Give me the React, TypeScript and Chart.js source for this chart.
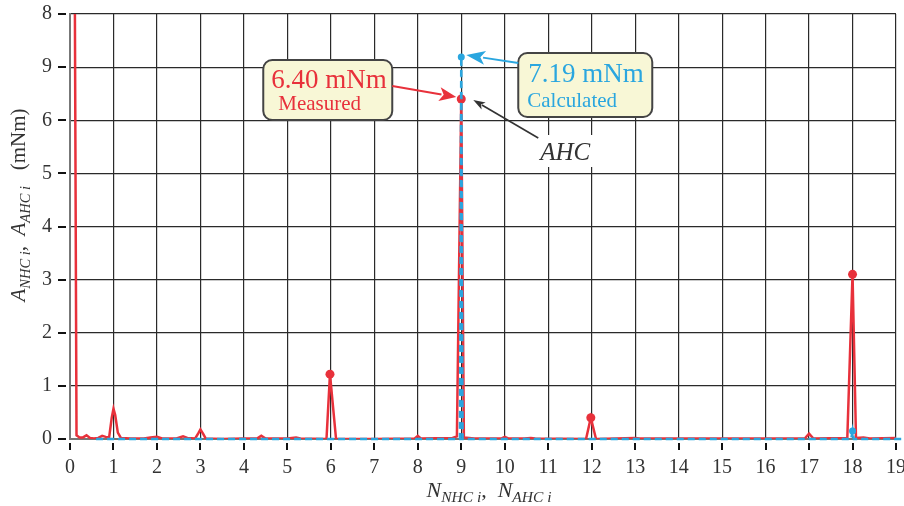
import React, { useEffect, useRef } from "react";
import { Chart, registerables } from "chart.js";

Chart.register(...registerables);

// ---- data ----
const measuredX = [
  0.11, 0.15, 0.22, 0.3, 0.38, 0.46, 0.55, 0.65, 0.74, 0.82, 0.9, 0.96, 1.0, 1.04, 1.1, 1.17, 1.4, 1.7, 1.85, 2.0, 2.12,
  2.45, 2.6, 2.7, 2.88, 2.96, 3.0, 3.06, 3.12, 3.5, 4.0, 4.3, 4.4, 4.5, 5.0, 5.2, 5.3, 5.9, 5.98, 6.12, 7.0, 7.93, 8.0,
  8.07, 8.8, 8.9, 9.0, 9.06, 9.3, 9.93, 10.0, 10.08, 10.45, 10.6, 10.7, 11.87, 11.98, 12.1, 13.0, 13.1, 14.2, 15.0,
  16.9, 17.0, 17.1, 17.88, 18.0, 18.08, 18.25, 18.4, 19.0,
];
const measuredY = [
  8.6, 0.07, 0.03, 0.03, 0.07, 0.02, 0.01, 0.02, 0.06, 0.04, 0.03, 0.4, 0.57, 0.45, 0.12, 0.02, 0.01, 0.01, 0.03, 0.04, 0.01,
  0.01, 0.05, 0.02, 0.01, 0.12, 0.18, 0.1, 0.01, 0.0, 0.01, 0.01, 0.06, 0.01, 0.01, 0.03, 0.01, 0.0, 1.22, 0.0, 0.0, 0.01, 0.06,
  0.01, 0.02, 0.05, 6.4, 0.03, 0.01, 0.01, 0.04, 0.01, 0.01, 0.02, 0.01, 0.0, 0.4, 0.0, 0.02, 0.01, 0.01, 0.01,
  0.01, 0.1, 0.01, 0.02, 3.1, 0.02, 0.03, 0.01, 0.02,
];
const measuredMarks = [5.98, 9, 11.98, 18];

const calculatedX = [0.6, 8.97, 9.0, 9.03, 17.97, 18.0, 18.03, 19.25];
const calculatedY = [0, 0, 7.19, 0, 0, 0.15, 0, 0];
const calculatedMarks = [9, 18];

const xTickValues = [0, 1, 2, 3, 4, 5, 6, 7, 8, 9, 10, 11, 12, 13, 14, 15, 16, 17, 18, 19];
const yTickLabels = ["0", "1", "2", "3", "4", "5", "6", "9", "8"];

const measuredLabel = "6.40 mNm";
const measuredSub = "Measured";
const calculatedLabel = "7.19 mNm";
const calculatedSub = "Calculated";
const ahcLabel = "AHC";

const RED = "#e8313b";
const BLUE = "#2aa6df";
const TXT = "#333";
const SERIF = "'Liberation Serif', 'DejaVu Serif', serif";

type Seg = { t: string; it?: boolean; sub?: boolean };

function drawSegs(ctx: CanvasRenderingContext2D, segs: Seg[], cx: number, base: number, big: number, small: number) {
  const fontOf = (s: Seg) => `${s.it ? "italic " : ""}${s.sub ? small : big}px ${SERIF}`;
  let total = 0;
  for (const s of segs) {
    ctx.font = fontOf(s);
    total += ctx.measureText(s.t).width;
  }
  let x = cx - total / 2;
  ctx.textAlign = "left";
  ctx.textBaseline = "alphabetic";
  for (const s of segs) {
    ctx.font = fontOf(s);
    ctx.fillText(s.t, x, s.sub ? base + 5 : base);
    x += ctx.measureText(s.t).width;
  }
}

function arrow(
  ctx: CanvasRenderingContext2D,
  x1: number, y1: number, x2: number, y2: number,
  color: string, lw: number, hl: number, hw: number
) {
  const a = Math.atan2(y2 - y1, x2 - x1);
  const bx = x2 - hl * Math.cos(a);
  const by = y2 - hl * Math.sin(a);
  ctx.save();
  ctx.strokeStyle = color;
  ctx.fillStyle = color;
  ctx.lineWidth = lw;
  ctx.beginPath();
  ctx.moveTo(x1, y1);
  ctx.lineTo(bx + 2 * Math.cos(a), by + 2 * Math.sin(a));
  ctx.stroke();
  ctx.beginPath();
  ctx.moveTo(x2, y2);
  ctx.lineTo(bx + (hw / 2) * Math.sin(a), by - (hw / 2) * Math.cos(a));
  ctx.lineTo(bx + hl * 0.25 * Math.cos(a), by + hl * 0.25 * Math.sin(a));
  ctx.lineTo(bx - (hw / 2) * Math.sin(a), by + (hw / 2) * Math.cos(a));
  ctx.closePath();
  ctx.fill();
  ctx.restore();
}

function box(ctx: CanvasRenderingContext2D, x: number, y: number, w: number, h: number, r: number) {
  ctx.save();
  ctx.beginPath();
  ctx.moveTo(x + r, y);
  ctx.arcTo(x + w, y, x + w, y + h, r);
  ctx.arcTo(x + w, y + h, x, y + h, r);
  ctx.arcTo(x, y + h, x, y, r);
  ctx.arcTo(x, y, x + w, y, r);
  ctx.closePath();
  ctx.fillStyle = "#f8f7d6";
  ctx.fill();
  ctx.strokeStyle = "#444";
  ctx.lineWidth = 2;
  ctx.stroke();
  ctx.restore();
}

const overlay = {
  id: "overlay",
  beforeDatasetsDraw(chart: any) {
    const { ctx, chartArea, scales } = chart;
    const xs = scales.x;
    const ys = scales.y;
    ctx.save();
    ctx.strokeStyle = "#111";
    ctx.lineWidth = 2;
    for (const v of xTickValues) {
      const px = Math.round(xs.getPixelForValue(v));
      ctx.beginPath();
      ctx.moveTo(px, chartArea.bottom + 4);
      ctx.lineTo(px, chartArea.bottom + 11);
      ctx.stroke();
    }
    for (let v = 0; v < yTickLabels.length; v++) {
      const py = Math.round(ys.getPixelForValue(v));
      ctx.beginPath();
      ctx.moveTo(chartArea.left - 12, py);
      ctx.lineTo(chartArea.left - 4, py);
      ctx.stroke();
    }
    ctx.restore();

    // axis titles
    ctx.save();
    ctx.fillStyle = TXT;
    drawSegs(
      ctx,
      [{ t: "N", it: true }, { t: "NHC i", it: true, sub: true }, { t: ",  " }, { t: "N", it: true }, { t: "AHC i", it: true, sub: true }],
      (chartArea.left + chartArea.right) / 2 + 6,
      497,
      22,
      15.5
    );
    ctx.translate(25, 205);
    ctx.rotate(-Math.PI / 2);
    drawSegs(
      ctx,
      [
        { t: "A", it: true },
        { t: "NHC i", it: true, sub: true },
        { t: ",  " },
        { t: "A", it: true },
        { t: "AHC i", it: true, sub: true },
        { t: "   (mNm)" },
      ],
      0,
      0,
      21,
      14.5
    );
    ctx.restore();
  },
  afterDraw(chart: any) {
    const { ctx, scales } = chart;
    const xs = scales.x;
    const ys = scales.y;
    const px = xs.getPixelForValue(9);
    const pyM = ys.getPixelForValue(6.4);
    const pyC = ys.getPixelForValue(7.19);

    // measured box
    const b1x = px - 198, b1y = pyM - 39;
    box(ctx, b1x, b1y, 129, 60, 9);
    ctx.save();
    ctx.fillStyle = RED;
    ctx.textAlign = "left";
    ctx.textBaseline = "alphabetic";
    ctx.font = `27px ${SERIF}`;
    ctx.fillText(measuredLabel, b1x + 8, b1y + 28);
    ctx.font = `21px ${SERIF}`;
    ctx.fillText(measuredSub, b1x + 15, b1y + 50);
    ctx.restore();

    // calculated box
    const b2x = px + 57, b2y = pyC - 4;
    box(ctx, b2x, b2y, 134, 64, 9);
    ctx.save();
    ctx.fillStyle = BLUE;
    ctx.font = `27px ${SERIF}`;
    ctx.textAlign = "left";
    ctx.textBaseline = "alphabetic";
    ctx.fillText(calculatedLabel, b2x + 10, b2y + 29);
    ctx.font = `21px ${SERIF}`;
    ctx.fillText(calculatedSub, b2x + 9, b2y + 54);
    ctx.restore();

    // AHC label
    ctx.save();
    ctx.fillStyle = "#fff";
    ctx.fillRect(px + 74, pyM + 36, 64, 32);
    ctx.fillStyle = TXT;
    ctx.font = `italic 25px ${SERIF}`;
    ctx.textAlign = "left";
    ctx.textBaseline = "alphabetic";
    ctx.fillText(ahcLabel, px + 79, pyM + 61);
    ctx.restore();

    arrow(ctx, b1x + 129, b1y + 26, px - 5, pyM - 2, RED, 2, 17, 14);
    arrow(ctx, b2x, b2y + 10, px + 5, pyC - 2, BLUE, 2, 19, 14);
    arrow(ctx, px + 77, pyM + 39, px + 12, pyM + 1, "#333", 1.6, 12, 8);
  },
};

export default function App() {
  const ref = useRef<HTMLCanvasElement | null>(null);
  useEffect(() => {
    if (!ref.current) return;
    const measured = measuredX.map((x, i) => ({ x, y: measuredY[i] }));
    const calculated = calculatedX.map((x, i) => ({ x, y: calculatedY[i] }));
    const chart = new Chart(ref.current, {
      type: "line",
      data: {
        datasets: [
          {
            label: "Calculated",
            data: calculated,
            borderColor: BLUE,
            backgroundColor: BLUE,
            borderWidth: 2.5,
            borderDash: [7, 4],
            tension: 0,
            clip: false as any,
            pointRadius: (c: any) => (calculatedMarks.includes(c.raw?.x) ? 3.5 : 0),
            pointBorderWidth: 0,
            pointHoverRadius: 0,
          },
          {
            label: "Measured",
            data: measured,
            borderColor: RED,
            backgroundColor: RED,
            borderWidth: 2.5,
            tension: 0,
            pointRadius: (c: any) => (measuredMarks.includes(c.raw?.x) ? 4.5 : 0),
            pointBorderWidth: 0,
            pointHoverRadius: 0,
          },
        ],
      },
      options: {
        animation: false,
        responsive: true,
        maintainAspectRatio: false,
        parsing: false as any,
        layout: { padding: { left: 0, right: 8, top: 14, bottom: 0 } },
        plugins: { legend: { display: false }, tooltip: { enabled: false } },
        scales: {
          x: {
            type: "linear",
            min: 0,
            max: 19,
            afterBuildTicks: (s: any) => {
              s.ticks = xTickValues.map((v) => ({ value: v }));
            },
            afterFit: (s: any) => {
              s.height = 67;
              s.paddingLeft = 0;
              s.paddingRight = 0;
            },
            ticks: {
              autoSkip: false,
              maxRotation: 0,
              padding: 17,
              color: TXT,
              font: { family: SERIF, size: 20 },
              callback: (v: any) => String(v),
            },
            grid: { color: "#2a2a2a", lineWidth: 1.2, drawTicks: false },
            border: { color: "#777", width: 2 },
          },
          y: {
            type: "linear",
            min: 0,
            max: 8,
            afterBuildTicks: (s: any) => {
              s.ticks = yTickLabels.map((_, i) => ({ value: i }));
            },
            afterFit: (s: any) => {
              s.width = 70;
              s.paddingTop = 0;
              s.paddingBottom = 0;
            },
            ticks: {
              autoSkip: false,
              padding: 18,
              color: TXT,
              font: { family: SERIF, size: 20 },
              callback: (v: any) => yTickLabels[Math.round(v)] ?? "",
            },
            grid: { color: "#2a2a2a", lineWidth: 1.2, drawTicks: false },
            border: { color: "#777", width: 2 },
          },
        },
      },
      plugins: [overlay],
    });
    return () => chart.destroy();
  }, []);
  return (
    <div style={{ position: "fixed", left: 0, top: 0, width: 904, height: 506, background: "#fff" }}>
      <canvas ref={ref} />
    </div>
  );
}
